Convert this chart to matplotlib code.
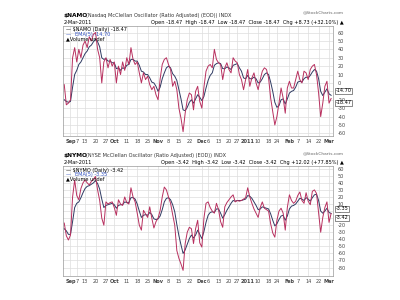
import numpy as np
import pandas as pd
import matplotlib
matplotlib.use("Agg")
import matplotlib.pyplot as plt

plt.rcParams["axes.unicode_minus"] = False

# trading calendar (NYSE holidays removed)
HOLIDAYS = ["2010-09-06", "2010-11-25", "2010-12-24", "2011-01-17", "2011-02-21"]
days = pd.bdate_range("2010-08-27", "2011-03-02")
days = days[~days.isin(pd.to_datetime(HOLIDAYS))]

# values, one per trading day
namo = [-2, -26, -24, -20, 30, 42, 25, 40, 30, 45, 50, 42, 55, 50, 58, 60, 40, 30, 0, 25,
        30, 18, 28, 20, 25, 0, 20, 10, 25, 15, 30, 22, 42, 28, 22, 25, 12, 0, 12, 4,
        8, -2, -8, -4, -14, -20, 5, 22, 28, 30, 22, 16, -4, 2, -8, -30, -42, -58, -36, -20,
        -12, -14, -32, -10, -4, -22, -30, -5, 14, 20, 22, 18, 40, 28, 24, 22, 4, 18, 24, 16,
        12, 30, 26, 24, 10, 4, -8, 4, 16, -4, 6, 12, 0, -8, 4, 14, 18, 16, 6, -18,
        -34, -50, -40, -24, -6, -18, -36, -6, 2, -6, -6, 4, 14, 4, 0, 14, 12, 4, 16, 20,
        22, 10, -12, -40, -24, -4, 2, -24, -18.47]
namo_ema = [-20, -22, -23, -22, -5, 10, 15, 22, 25, 30, 35, 38, 43, 45, 49, 52, 49, 43, 30, 28,
            29, 26, 26, 24, 24, 17, 18, 15, 18, 17, 21, 22, 28, 28, 26, 26, 21, 14, 13, 10,
            10, 6, 1, 0, -4, -10, -5, 5, 12, 18, 20, 18, 11, 8, 3, -8, -19, -32, -33, -29,
            -23, -20, -24, -19, -14, -17, -21, -16, -6, 3, 9, 12, 21, 23, 24, 23, 17, 17, 19, 18,
            16, 21, 22, 23, 18, 14, 6, 5, 9, 5, 5, 7, 5, 0, 1, 5, 10, 12, 10, 1,
            -10, -23, -29, -27, -20, -19, -25, -19, -12, -10, -9, -5, 1, 2, 1, 5, 7, 6, 9, 13,
            16, 14, 5, -10, -15, -11, -7, -13, -14.70]
nymo = [-17, -35, -41, -34, 20, 44, 22, 16, 32, 40, 44, 40, 37, 42, 45, 49, 30, 15, -10, -20,
        13, 10, 12, 13, 5, -6, 16, 10, 8, 20, 12, 10, 33, 20, 13, -3, -20, -27, 1, -4,
        -9, 6, -10, -24, -15, -10, 1, 20, 34, 30, 20, 11, -5, -20, -56, -67, -75, -84, -46, -30,
        -23, -25, -46, -25, -13, -45, -51, -10, 11, 13, 5, 0, -3, 11, 2, -15, -23, 6, 12, 16,
        20, 23, 13, 15, 14, 15, 17, 19, 33, 20, 11, 3, -3, -9, 5, 13, 4, 2, 0, -18,
        -31, -37, -13, 0, 4, -3, -27, 5, 23, 15, 11, 14, 22, 27, 15, 11, 26, 14, 9, 28,
        30, 25, -3, -30, -9, 5, 13, -16, -3.42]
nymo_ema = [-25, -28, -33, -33, -15, 5, 11, 13, 19, 26, 32, 35, 36, 38, 40, 43, 39, 31, 17, 5,
            8, 9, 10, 11, 9, 4, 8, 9, 9, 13, 12, 12, 19, 19, 17, 10, 0, -9, -6, -5,
            -6, -2, -5, -11, -12, -11, -7, 2, 13, 18, 19, 16, 9, -1, -19, -35, -48, -60, -55, -47,
            -39, -34, -38, -34, -27, -33, -39, -29, -16, -6, -2, -1, -2, 3, 3, -3, -10, -5, 1, 6,
            11, 15, 14, 15, 15, 15, 16, 17, 22, 21, 18, 13, 8, 2, 3, 6, 5, 4, 3, -4,
            -13, -21, -18, -12, -7, -6, -13, -7, 3, 7, 8, 10, 14, 18, 17, 15, 19, 17, 14, 19,
            23, 24, 15, 0, -3, 0, 4, -2, -3.35]

TICK_DATES = ["2010-09-01", "2010-09-07", "2010-09-13", "2010-09-20", "2010-09-27",
              "2010-10-01", "2010-10-11", "2010-10-18", "2010-10-25", "2010-11-01",
              "2010-11-08", "2010-11-15", "2010-11-22", "2010-12-01", "2010-12-06",
              "2010-12-13", "2010-12-20", "2010-12-27", "2011-01-03", "2011-01-10",
              "2011-01-18", "2011-01-24", "2011-02-01", "2011-02-07", "2011-02-14",
              "2011-02-22", "2011-03-01"]
TICK_LABELS = ["Sep", "7", "13", "20", "27", "Oct", "11", "18", "25", "Nov", "8", "15", "22",
               "Dec", "6", "13", "20", "27", "2011", "10", "18", "24", "Feb", "7", "14", "22", "Mar"]

panels = [
    dict(sym="$NAMO", name="(Nasdaq McClellan Oscillator (Ratio Adjusted) (EOD)) INDX",
         ohlc="Open -18.47  High -18.47  Low -18.47  Close -18.47  Chg +8.73 (+32.10%)",
         raw=namo, ema=namo_ema, yticks=range(-60, 61, 10), ylim=(-63, 68)),
    dict(sym="$NYMO", name="(NYSE McClellan Oscillator (Ratio Adjusted) (EOD)) INDX",
         ohlc="Open -3.42  High -3.42  Low -3.42  Close -3.42  Chg +12.02 (+77.85%)",
         raw=nymo, ema=nymo_ema, yticks=range(-80, 61, 10), ylim=(-92, 64)),
]

RAW_C = "#b8305f"
EMA_C = "#2e3a62"
FS = 3.6

fig = plt.figure(figsize=(4, 3), dpi=100)
fig.patch.set_facecolor("white")
x = np.arange(len(days))
tick_pos = [days.get_loc(pd.Timestamp(d)) for d in TICK_DATES]

for k, p in enumerate(panels):
    bottom = 0.547 if k == 0 else 0.08
    ax = fig.add_axes([0.158, bottom, 0.675, 0.367])
    ax.plot(x, p["ema"], color=EMA_C, lw=0.7)
    ax.plot(x, p["raw"], color=RAW_C, lw=0.7)
    ax.set_xlim(-0.5, 129)
    ax.set_ylim(*p["ylim"])
    ax.set_yticks(list(p["yticks"]))
    ax.yaxis.tick_right()
    ax.tick_params(axis="y", labelsize=FS, length=0, pad=3, colors="#444444")
    ax.set_xticks(tick_pos)
    ax.set_xticklabels(TICK_LABELS)
    ax.tick_params(axis="x", labelsize=FS, length=0, pad=2, colors="#444444")
    for lbl in ax.get_xticklabels():
        if not lbl.get_text().isdigit() or lbl.get_text() == "2011":
            lbl.set_fontweight("bold")
    ax.grid(True, color="#dddddd", lw=0.5)
    for s in ax.spines.values():
        s.set_color("#999999")
        s.set_linewidth(0.5)

    # header
    ax.text(0, 1.075, p["sym"], transform=ax.transAxes, fontsize=4.2, fontweight="bold",
            va="bottom")
    ax.text(0.085, 1.075, p["name"], transform=ax.transAxes, fontsize=FS, va="bottom",
            color="#333333")
    ax.text(0, 1.01, "2-Mar-2011", transform=ax.transAxes, fontsize=FS, va="bottom")
    ax.text(1.04, 1.01, p["ohlc"] + " \u25b2", transform=ax.transAxes, fontsize=FS,
            va="bottom", ha="right")
    ax.text(1.04, 1.1, "@StockCharts.com", transform=ax.transAxes, fontsize=3.2,
            va="bottom", ha="right", color="#666666")

    # legend block
    ax.text(0.01, 0.985, "\u2014 %s (Daily) %.2f" % (p["sym"], p["raw"][-1]),
            transform=ax.transAxes, fontsize=FS, va="top")
    ax.text(0.01, 0.945, "\u2014", transform=ax.transAxes, fontsize=FS, va="top", color="#3050c0")
    ax.text(0.045, 0.945, "EMA(5) %.2f" % p["ema"][-1], transform=ax.transAxes,
            fontsize=FS, va="top", color="#3050c0")
    ax.text(0.01, 0.905, "\u25b2Volume undef", transform=ax.transAxes, fontsize=FS, va="top")

    # last-value tags
    for val, dy in ((p["ema"][-1], 3.2), (p["raw"][-1], -3.2)):
        ax.annotate("%.2f" % val, xy=(1.0, val), xycoords=("axes fraction", "data"),
                    xytext=(1.5, dy), textcoords="offset points", fontsize=FS, va="center",
                    bbox=dict(boxstyle="square,pad=0.15", fc="white", ec="#333333", lw=0.4),
                    annotation_clip=False, zorder=5)

fig.savefig("out.png", dpi=100)
